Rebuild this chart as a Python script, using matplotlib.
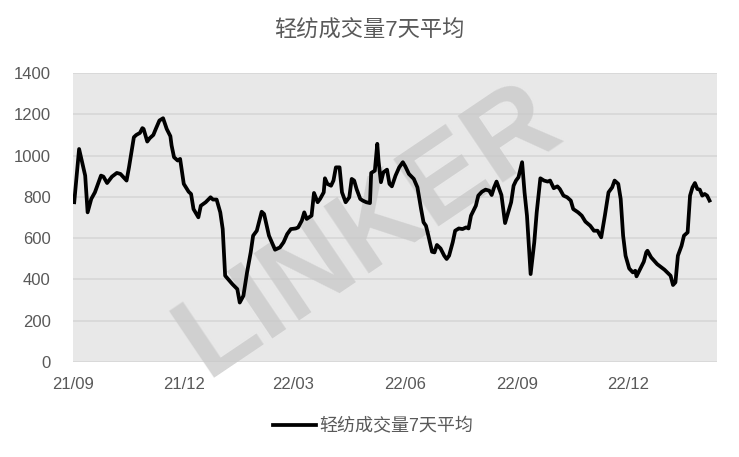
import numpy as np
import pandas as pd
import matplotlib
matplotlib.use("Agg")
import matplotlib.pyplot as plt
import matplotlib.dates as mdates

plt.rcParams['font.family'] = ['Liberation Sans', 'Noto Sans CJK SC', 'DejaVu Sans']

title = "轻纺成交量7天平均"
series_name = "轻纺成交量7天平均"
start = pd.Timestamp("2021-09-01")

# days after 2021-09-01
day_offset = [
    1, 5, 10, 12, 15, 18, 20, 23, 25, 28, 32, 36, 39, 44, 46, 50, 52, 55, 57, 58,
    61, 63, 66, 68, 71, 74, 77, 80, 81, 83, 86, 88, 91, 95,
    97, 99, 103, 105, 109, 113, 115, 118, 121, 123, 125, 131, 135, 137, 140, 143,
    146, 148, 151, 155, 157, 161, 166, 170, 173, 176, 179, 183, 185, 188,
    190, 192, 196, 198, 201, 203, 206, 207, 209, 212, 214, 216, 219, 221, 224, 227,
    229, 231, 233, 236, 238, 241, 244, 245, 248, 250, 251, 253, 255, 258, 260, 262,
    265, 268, 271, 273, 276, 280, 283,
    286, 288, 290, 292, 295, 297, 299, 302, 305, 307, 309, 312, 314, 317, 320, 323,
    325, 327, 329, 331, 333, 336, 339, 342, 344, 346, 348, 350, 352, 355, 358, 360,
    362, 364, 366, 369, 371, 373, 376,
    379, 381, 384, 387, 390, 392, 395, 398, 400, 403, 406, 409, 411, 415, 418, 421,
    425, 428, 431, 434, 437, 440, 443, 445, 448, 450, 452, 454, 457, 460, 462, 463,
    466, 469,
    471, 472, 475, 480, 486, 491, 493, 495, 497, 500, 502, 505, 507, 509, 511, 513,
    515, 517, 519, 521, 523,
]
volume = [
    774, 1032, 903, 725, 790, 822, 854, 903, 898, 867, 898, 916, 911, 879, 943, 1089,
    1100, 1110, 1133, 1129, 1068, 1084, 1100, 1129, 1170, 1181, 1129, 1094, 1049, 992,
    976, 984, 863, 825,
    814, 741, 701, 757, 774, 798, 787, 787, 725, 644, 418, 377, 353, 288, 321, 434,
    531, 612, 636, 728, 717, 612, 544, 555, 580, 620, 644, 647, 652, 685,
    725, 693, 709, 819, 774, 790, 822, 890, 863, 854, 879, 943, 943, 822, 774, 798,
    887, 879, 838, 790, 782, 774, 770, 916, 927, 1057, 976, 871, 919, 932, 863, 851,
    903, 943, 968, 948, 911, 887, 846,
    741, 677, 660, 612, 534, 531, 567, 550, 515, 499, 515, 580, 636, 647, 644, 652,
    647, 709, 733, 757, 806, 825, 835, 830, 809, 846, 874, 842, 809, 673, 733, 774,
    854, 879, 895, 968, 822, 709, 426,
    580, 725, 890, 879, 874, 879, 842, 851, 838, 806, 798, 782, 741, 725, 709, 680,
    660, 636, 636, 604, 709, 822, 846, 879, 863, 790, 612, 515, 453, 434, 442, 415,
    450, 486,
    531, 539, 507, 474, 447, 418, 373, 386, 515, 563, 612, 628, 806, 846, 867, 838,
    835, 806, 814, 806, 782,
]
y_ticks = [0, 200, 400, 600, 800, 1000, 1200, 1400]
x_ticks = ["2021-09-01", "2021-12-01", "2022-03-01", "2022-06-01", "2022-09-01", "2022-12-01"]

dates = start + pd.to_timedelta(day_offset, unit="D")
grey = "#595959"

fig = plt.figure(figsize=(7.39, 4.57), dpi=100)
ax = fig.add_axes([0.0988, 0.2079, 0.8712, 0.6323])
ax.set_facecolor("#e8e8e8")

ax.plot(dates, volume, color="black", lw=2.7, solid_joinstyle="round", zorder=3,
        label=series_name)

ax.set_ylim(0, 1400)
ax.set_yticks(y_ticks)
ax.set_xlim(start, pd.Timestamp("2023-02-12"))
ax.set_xticks(pd.to_datetime(x_ticks))
ax.xaxis.set_major_formatter(mdates.DateFormatter("%y/%m"))
ax.grid(axis="y", color="#d6d6d6", lw=1.2, zorder=1)
ax.set_axisbelow(True)
for s in ax.spines.values():
    s.set_visible(False)
ax.tick_params(length=0, labelsize=12, colors=grey)
ax.tick_params(axis="y", pad=16)
ax.tick_params(axis="x", pad=11)

ax.text(0.46, 0.45, "LINKER", transform=ax.transAxes, rotation=34,
        ha="center", va="center", fontsize=84, fontweight="bold",
        color="#c8c8c8", alpha=0.75, zorder=2)

fig.text(0.5, 0.932, title, ha="center", va="center", fontsize=16, color=grey)
fig.legend(loc="center", bbox_to_anchor=(0.505, 0.066), frameon=False,
           fontsize=13, labelcolor=grey, handlelength=2.4, handletextpad=0.2)

fig.savefig("out.png", dpi=100)
